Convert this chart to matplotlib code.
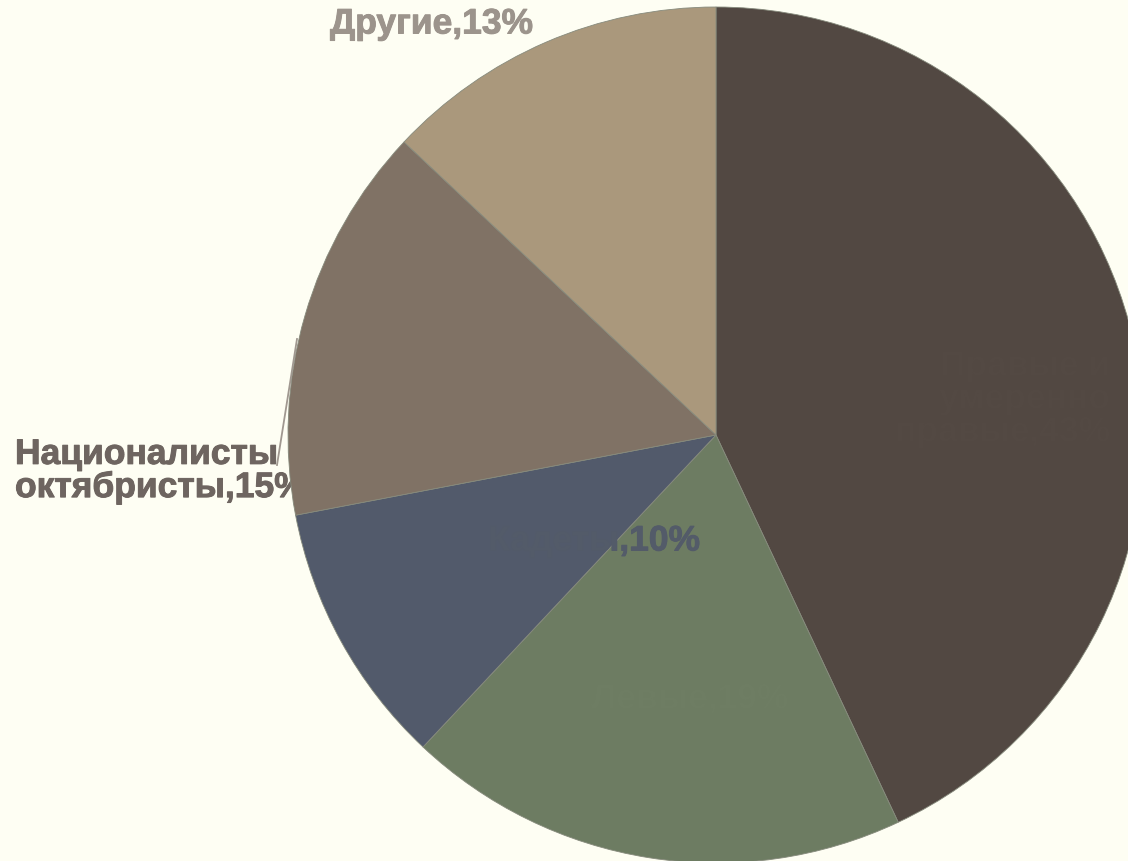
import numpy as np
import matplotlib.pyplot as plt
import matplotlib.patheffects as pe

# данные
parties = ['Правые и\nумеренно\nправые', 'Левые', 'Кадеты', 'Националисты\nоктябристы', 'Другие']
shares = [43, 19, 10, 15, 13]
colors = ['#524842', '#6d7c62', '#525a6b', '#807265', '#aa987c']
label_colors = ['#534943', '#6e7d63', '#535b69', '#6e6560', '#9c948c']

plt.rcParams['font.family'] = ['Liberation Sans', 'DejaVu Sans']

fig = plt.figure(figsize=(11.28, 8.62), dpi=100)
fig.patch.set_facecolor('#fefef3')
ax = fig.add_axes([0, 0, 1, 1])
ax.set_facecolor('#fefef3')

cx, cy, r = 716, 862 - 436, 428
wedges, _ = ax.pie(shares, colors=colors, startangle=90, counterclock=False,
                   center=(cx, cy), radius=r, frame=True,
                   wedgeprops=dict(linewidth=0.6, edgecolor='#868a7c'))
for w in wedges:
    w.set_zorder(2)
ax.set_xlim(0, 1128)
ax.set_ylim(0, 862)
ax.set_aspect('equal')
ax.axis('off')

labels = [f'{p},{s}%' for p, s in zip(parties, shares)]
pos = [(1110, 862 - 400, 'right'), (690, 862 - 700, 'center'), (700, 862 - 542, 'right'),
       (15, 862 - 472, 'left'), (330, 862 - 25, 'left')]
for i, (lab, c, (x, y, ha)) in enumerate(zip(labels, label_colors, pos)):
    # подпись слева уходит под круг
    z = 1 if i == 3 else 3
    ax.text(x, y, lab, color=c, fontsize=25.5, fontweight='bold', ha=ha, va='center',
            linespacing=1.0, zorder=z,
            path_effects=[pe.withStroke(linewidth=0.7, foreground=c)])

# линия-выноска
ax.plot([277, 297], [862 - 466, 862 - 340], color='#a09890', lw=1.3, zorder=3)

fig.savefig('out.png', dpi=100, facecolor=fig.get_facecolor())
